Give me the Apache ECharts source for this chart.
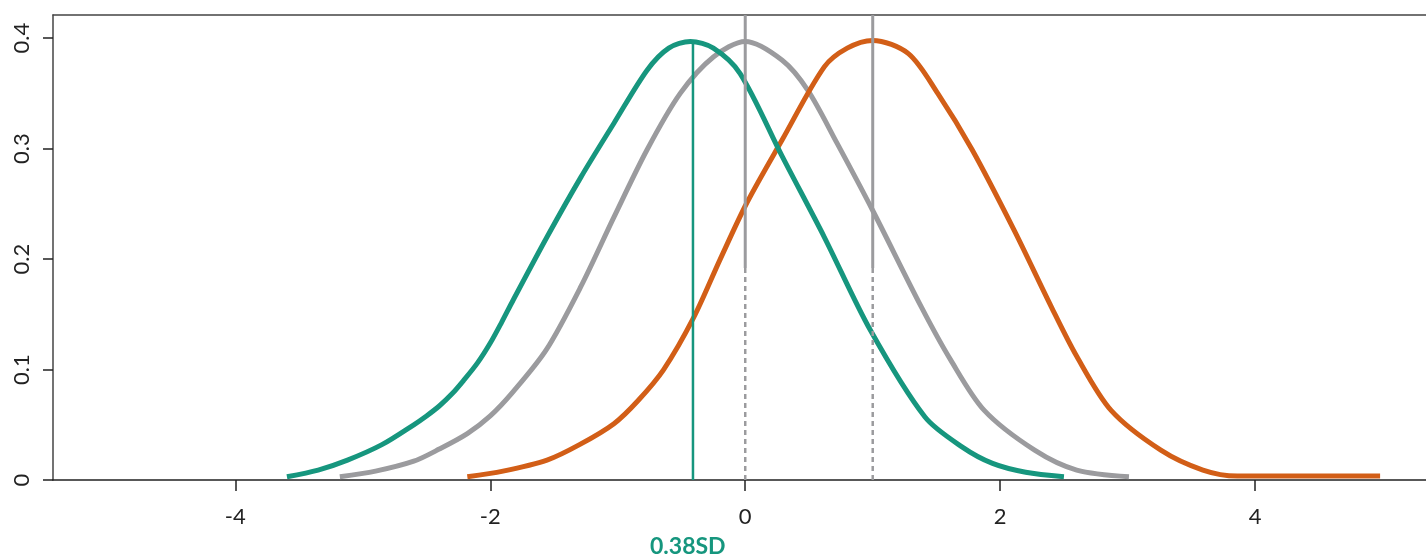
<!DOCTYPE html>
<html>
<head>
<meta charset="utf-8">
<script src="https://cdn.jsdelivr.net/npm/echarts@6/dist/echarts.min.js"></script>
<style>
html,body{margin:0;padding:0;background:#fff;}
#chart{width:1426px;height:559px;}
</style>
</head>
<body>
<div id="chart"></div>
<script>
// ---- data ----
const greenX = [-3.595,-3.35,-3.12,-2.85,-2.60,-2.50,-2.40,-2.30,-2.21,-2.10,-2.00,-1.91,-1.82,-1.555,-1.29,-1.03,-0.77,-0.60,-0.43,-0.25,-0.04,0.29,0.62,0.98,1.41,1.70,1.94,2.20,2.50];
const greenY = [0.003,0.009,0.018,0.032,0.050,0.058,0.067,0.078,0.090,0.106,0.124,0.143,0.163,0.220,0.274,0.323,0.371,0.391,0.397,0.391,0.368,0.293,0.220,0.136,0.057,0.030,0.015,0.007,0.003];
const grayX = [-3.18,-2.90,-2.60,-2.40,-2.18,-2.00,-1.82,-1.56,-1.29,-1.03,-0.77,-0.51,-0.25,0.00,0.29,0.49,0.72,1.00,1.38,1.61,1.875,2.27,2.60,3.01];
const grayY = [0.003,0.008,0.017,0.028,0.042,0.058,0.080,0.118,0.175,0.238,0.299,0.350,0.383,0.397,0.380,0.353,0.305,0.244,0.157,0.109,0.063,0.027,0.009,0.003];
const orangeX = [-2.18,-1.90,-1.555,-1.30,-1.03,-0.84,-0.64,-0.405,-0.196,0.013,0.29,0.62,0.80,1.00,1.28,1.51,1.78,2.11,2.40,2.60,2.87,3.26,3.59,3.86,4.98];
const orangeY = [0.003,0.008,0.018,0.032,0.051,0.072,0.100,0.147,0.200,0.251,0.308,0.374,0.391,0.398,0.386,0.350,0.299,0.226,0.157,0.112,0.063,0.027,0.009,0.0036,0.0036];
const shiftLineX = [-0.41];        // green mean marker
const shiftLineTop = [0.397];
const meanLineX = [0, 1];          // gray mean markers
const meanSolidFrom = 0.192;       // solid above, dashed below
const axisTop = 0.421;
const xTicks = [-4, -2, 0, 2, 4];
const yTicks = [0, 0.1, 0.2, 0.3, 0.4];
const annotation = "0.38SD";

const GREEN = '#16967e', ORANGE = '#d25e17', GRAY = '#9b9b9e';
const FONT = 'Lato';

function pairs(xs, ys){ return xs.map((x,i)=>[x, ys[i]]); }

const series = [];
series.push({type:'line', data:pairs(grayX, grayY), showSymbol:false, smooth:0.3,
  lineStyle:{color:GRAY, width:5}, z:2});
series.push({type:'line', data:pairs(orangeX, orangeY), showSymbol:false, smooth:0.3,
  lineStyle:{color:ORANGE, width:5}, z:3});
series.push({type:'line', data:pairs(greenX, greenY), showSymbol:false, smooth:0.3,
  lineStyle:{color:GREEN, width:5}, z:4});
meanLineX.forEach(x=>{
  series.push({type:'line', data:[[x, meanSolidFrom],[x, axisTop]], showSymbol:false,
    lineStyle:{color:GRAY, width:3}, z:5});
  series.push({type:'line', data:[[x, 0],[x, meanSolidFrom]], showSymbol:false,
    lineStyle:{color:GRAY, width:2.5, type:[5,4]}, z:5});
});
shiftLineX.forEach((x,i)=>{
  series.push({type:'line', data:[[x, 0],[x, shiftLineTop[i]]], showSymbol:false,
    lineStyle:{color:GREEN, width:2.5}, z:6});
});

const chart = echarts.init(document.getElementById('chart'), null, {renderer:'canvas'});
chart.setOption({
  animation:false,
  grid:{left:53, right:0, top:15, bottom:79, containLabel:false},
  xAxis:[{
    type:'value', min:-5.43, max:5.34, position:'bottom',
    axisLine:{show:true, onZero:false, lineStyle:{color:'#222', width:1.5}},
    axisTick:{show:true, length:11, inside:false, customValues:xTicks, lineStyle:{color:'#222', width:1.5}},
    axisLabel:{show:true, customValues:xTicks, margin:26, color:'#222', fontSize:22, fontFamily:FONT},
    splitLine:{show:false}
  },{
    type:'value', min:-5.43, max:5.34, position:'top',
    axisLine:{show:true, onZero:false, lineStyle:{color:'#444', width:1.5}},
    axisTick:{show:false}, axisLabel:{show:false}, splitLine:{show:false}
  }],
  yAxis:{
    type:'value', min:0, max:axisTop,
    axisLine:{show:true, onZero:false, lineStyle:{color:'#444', width:1.5}},
    axisTick:{show:true, length:10, customValues:yTicks, lineStyle:{color:'#222', width:1.5}},
    axisLabel:{show:true, customValues:yTicks, rotate:90, margin:20, color:'#222', fontSize:22, fontFamily:FONT,
      formatter:v=>String(Math.round(v*10)/10)},
    splitLine:{show:false}
  },
  graphic:[{
    type:'text', left:650, top:535,
    style:{text:annotation, fill:GREEN, font:'bold 23px Lato'}
  }],
  series:series
});
</script>
</body>
</html>
